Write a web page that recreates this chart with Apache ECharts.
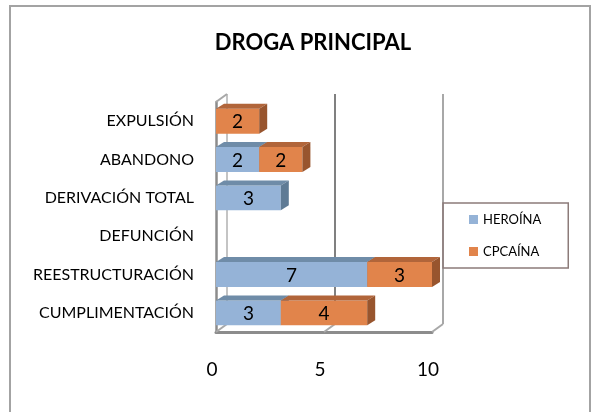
<!DOCTYPE html>
<html>
<head>
    <meta charset="utf-8">
    <title>DROGA PRINCIPAL</title>
    <script src="https://cdn.jsdelivr.net/npm/echarts@6.0.0/dist/echarts.min.js"></script>
    <style>
        html, body { margin: 0; padding: 0; background: #fff; }
        #chart-container { width: 596px; height: 412px; }
    </style>
</head>
<body>
<div id="chart-container"></div>

<script>
    // datos
    var categories = ['EXPULSIÓN', 'ABANDONO', 'DERIVACIÓN TOTAL', 'DEFUNCIÓN', 'REESTRUCTURACIÓN', 'CUMPLIMENTACIÓN'];
    var heroina = [0, 2, 3, 0, 7, 3];
    var cpcaina = [2, 2, 0, 0, 3, 4];
    var xTicks = [0, 5, 10];

    var FONT = 'Lato, "Open Sans", sans-serif';

    // colores (frente, arriba, lado)
    var blue = ['#95B3D7', '#6F8CA8', '#5F7B95'];
    var orange = ['#E1844B', '#B1653A', '#98552E'];

    var myChart = echarts.init(document.getElementById('chart-container'));

    // caja 3D para cada tramo apilado
    function makeBox(colors) {
        return function (params, api) {
            var start = api.value(0), cat = api.value(1), end = api.value(2), val = api.value(3);
            if (!val) return;
            var p0 = api.coord([start, cat]);
            var p1 = api.coord([end, cat]);
            var h = api.size([0, 1])[1] * 0.65;
            var dx = 8, dy = -5;
            var x0 = p0[0], x1 = p1[0];
            var yT = p0[1] - h / 2, yB = p0[1] + h / 2;
            return {
                type: 'group',
                children: [
                    { type: 'rect', shape: { x: x0, y: yT, width: x1 - x0, height: h }, style: { fill: colors[0] } },
                    { type: 'polygon', shape: { points: [[x0, yT], [x1, yT], [x1 + dx, yT + dy], [x0 + dx, yT + dy]] }, style: { fill: colors[1] } },
                    { type: 'polygon', shape: { points: [[x1, yT], [x1 + dx, yT + dy], [x1 + dx, yB + dy], [x1, yB]] }, style: { fill: colors[2] } },
                    { type: 'text', style: { text: String(val), x: (x0 + x1) / 2, y: p0[1] + 1, align: 'center', verticalAlign: 'middle', fill: '#000', font: '19px ' + FONT } }
                ]
            };
        };
    }

    var heroinaData = categories.map(function (c, i) { return [0, i, heroina[i], heroina[i]]; });
    var cpcainaData = categories.map(function (c, i) { return [heroina[i], i, heroina[i] + cpcaina[i], cpcaina[i]]; });

    var option = {
        animation: false,
        graphic: [{
            type: 'rect',
            shape: { x: 10, y: 6, width: 580, height: 430 },
            style: { fill: 'none', stroke: '#a3a3a3', lineWidth: 2 },
            silent: true
        }],
        title: {
            text: 'DROGA PRINCIPAL',
            left: 308,
            textAlign: 'center',
            top: 27,
            textStyle: { fontFamily: FONT, fontSize: 22, fontWeight: 'bold', color: '#000' }
        },
        legend: {
            data: [{ name: 'HEROÍNA', icon: 'rect' }, { name: 'CPCAÍNA', icon: 'rect' }],
            orient: 'vertical',
            left: 443,
            top: 203,
            padding: [10, 27, 10, 26],
            itemGap: 19,
            itemWidth: 9,
            itemHeight: 9,
            borderColor: '#8c7b79',
            borderWidth: 1.5,
            textStyle: { fontFamily: FONT, fontSize: 13, color: '#000' }
        },
        grid: { left: 216, right: 164, top: 102, bottom: 80 },
        xAxis: {
            type: 'value',
            min: 0,
            max: 10,
            interval: 5,
            splitLine: { show: false },
            axisTick: { show: false },
            axisLine: { show: true, lineStyle: { color: '#8c8c8c', width: 3 } },
            axisLabel: { margin: 28, padding: [0, 8, 0, 0], fontFamily: FONT, fontSize: 19, color: '#000' }
        },
        yAxis: {
            type: 'category',
            data: categories,
            inverse: true,
            axisTick: { show: false },
            axisLine: { show: true, lineStyle: { color: '#8c8c8c', width: 2.5 } },
            axisLabel: { margin: 22, padding: [6, 0, 0, 0], fontFamily: FONT, fontSize: 16, color: '#000' }
        },
        series: [
            {
                name: 'pared',
                type: 'custom',
                z: 1,
                silent: true,
                data: xTicks.map(function (v) { return [v]; }),
                renderItem: function (params, api) {
                    var v = api.value(0);
                    var x = api.coord([v, 0])[0];
                    var r = params.coordSys;
                    var bot = r.y + r.height;
                    var dx = 11, dy = -8;
                    var col = v === 5 ? '#808080' : (v === 0 ? '#c4c4c4' : '#a8a8a8');
                    var kids = [
                        { type: 'line', shape: { x1: x + dx, y1: r.y + dy, x2: x + dx, y2: bot + dy }, style: { stroke: col, lineWidth: 2 } },
                        { type: 'line', shape: { x1: x, y1: bot, x2: x + dx, y2: bot + dy }, style: { stroke: '#a8a8a8', lineWidth: 2 } }
                    ];
                    if (v === 0) {
                        kids.push({ type: 'line', shape: { x1: x, y1: r.y, x2: x + dx, y2: r.y + dy }, style: { stroke: '#a8a8a8', lineWidth: 2 } });
                    }
                    return { type: 'group', children: kids };
                }
            },
            {
                name: 'HEROÍNA',
                type: 'custom',
                z: 2,
                itemStyle: { color: blue[0] },
                data: heroinaData,
                renderItem: makeBox(blue)
            },
            {
                name: 'CPCAÍNA',
                type: 'custom',
                z: 2,
                itemStyle: { color: orange[0] },
                data: cpcainaData,
                renderItem: makeBox(orange)
            }
        ]
    };

    myChart.setOption(option);
</script>
</body>
</html>
